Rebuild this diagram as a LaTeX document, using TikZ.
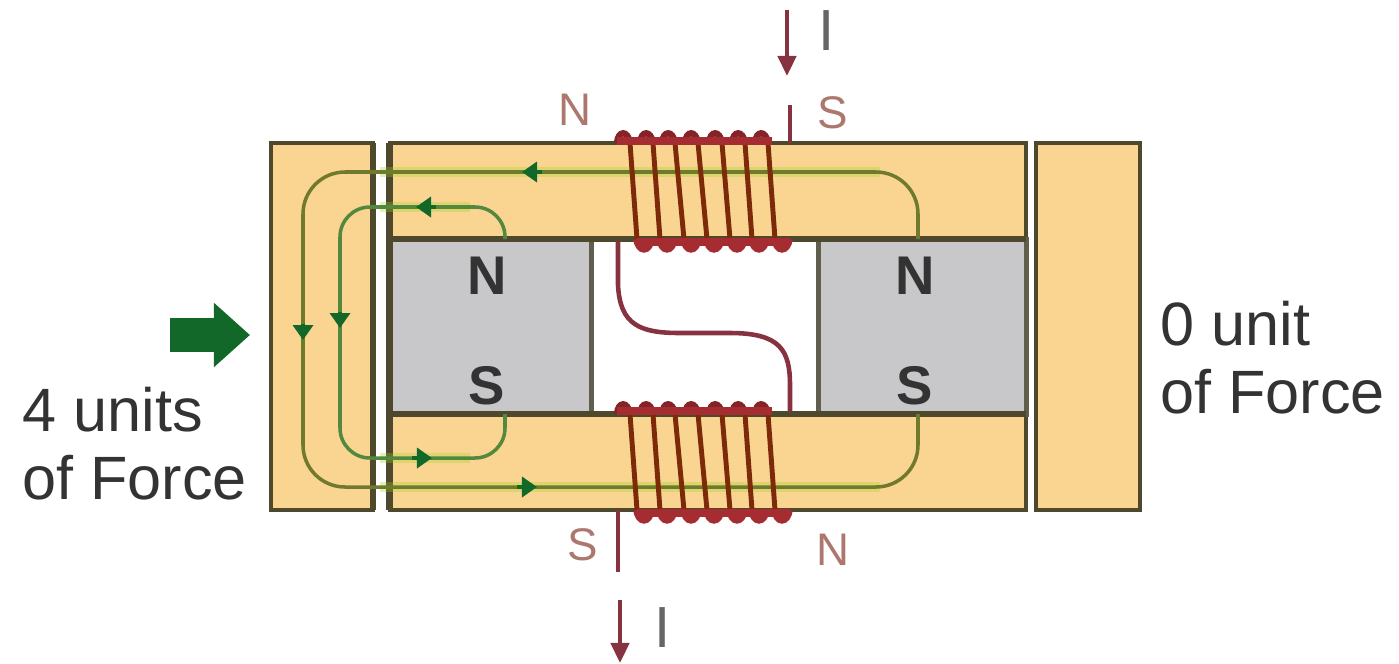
\documentclass[tikz,border=0pt]{standalone}
\usepackage{fontspec}
\setmainfont{Liberation Sans}
\usetikzlibrary{positioning, arrows.meta}
\definecolor{coreorange}{RGB}{250,213,145}
\definecolor{edgedark}{RGB}{78,72,44}
\definecolor{magnetgray}{RGB}{200,200,202}
\definecolor{fluxolive}{RGB}{112,122,44}
\definecolor{fluxgreen}{RGB}{84,136,62}
\definecolor{tipgreen}{RGB}{18,104,40}
\definecolor{wirebrown}{RGB}{125,42,10}
\definecolor{wirered}{RGB}{165,45,50}
\definecolor{leadred}{RGB}{135,50,65}
\definecolor{polepink}{RGB}{172,120,110}
\tikzset{
core/.style={draw=edgedark, fill=coreorange, line width=1.2pt, inner sep=0pt, outer sep=0pt}, % bars and plates
magnet/.style={draw=edgedark!60!gray, fill=magnetgray, line width=1.4pt, inner sep=0pt, outer sep=0pt},
heavyedge/.style={draw=edgedark, line width=1.9pt},
glow/.style={draw=yellow!60!green, line width=2.8pt, opacity=0.3},
fluxouter/.style={draw=fluxolive, line width=1pt, rounded corners=0.42cm},
fluxinner/.style={draw=fluxgreen, line width=1pt, rounded corners=0.3cm},
fluxtip/.style={draw=tipgreen, line width=1pt, -{Triangle[length=0.15cm, width=0.2cm]}},
turn/.style={draw=wirebrown, line width=1.4pt},
loopdark/.style={draw=wirered!80!black, line width=1.8pt},
looplight/.style={draw=wirered, line width=2.2pt},
lead/.style={draw=leadred, line width=1.3pt},
current/.style={lead, -{Triangle[length=0.2cm, width=0.18cm]}},
pushtip/.style={draw=tipgreen, line width=9.5pt, -{Triangle[length=0.36cm, width=0.62cm]}},
bigpole/.style={text=black!80, font=\bfseries\fontsize{15.5}{18}\selectfont},
coilpole/.style={text=polepink, font=\fontsize{13}{15}\selectfont},
curlabel/.style={text=black!60, font=\fontsize{16.5}{18}\selectfont},
forcetext/.style={text=black!80, align=left, anchor=west, font=\fontsize{17.4}{19.3}\selectfont},
}

\begin{document}
\begin{tikzpicture}[x=0.01cm, y=-0.01cm]
      \useasboundingbox (0,0) rectangle (1399,663);

      % iron parts
      \node[core, minimum width=1.02cm, minimum height=3.67cm] (leftplate) at (322,326.5) {};
      \node[core, minimum width=6.36cm, minimum height=0.96cm] (topbar) at (708,191) {};
      \node[core, minimum width=6.36cm, minimum height=0.96cm] (bottombar) at (708,462) {};
      \node[core, minimum width=1.04cm, minimum height=3.67cm] (rightplate) at (1088,326.5) {};
      \node[magnet, minimum width=2.02cm, minimum height=1.75cm, below=0pt of topbar.south west, anchor=north west] (leftmagnet) {};
      \node[magnet, minimum width=2.08cm, minimum height=1.75cm, below=0pt of topbar.south east, anchor=north east] (rightmagnet) {};
      \draw[heavyedge] (leftplate.north east) -- (leftplate.south east);
      \draw[heavyedge] (topbar.north west) -- (bottombar.south west);
      \draw[heavyedge] (leftmagnet.south west) -- (rightmagnet.south east);
      \draw[heavyedge] (leftmagnet.north west) -- (rightmagnet.north east);

      % flux paths
      \coordinate (o1) at (918,239);
      \coordinate (o2) at (918,172);
      \coordinate (o3) at (303,172);
      \coordinate (o4) at (303,487);
      \coordinate (o5) at (918,487);
      \coordinate (o6) at (918,414);
      \coordinate (i1) at (505,239);
      \coordinate (i2) at (505,207);
      \coordinate (i3) at (340,207);
      \coordinate (i4) at (340,458);
      \coordinate (i5) at (505,458);
      \coordinate (i6) at (505,414);
      \draw[glow] (380,172) -- (880,172) (380,487) -- (880,487) (380,207) -- (470,207) (380,458) -- (470,458);
      \draw[fluxouter] (o1) -- (o2) -- (o3) -- (o4) -- (o5) -- (o6);
      \draw[fluxinner] (i1) -- (i2) -- (i3) -- (i4) -- (i5) -- (i6);
      \draw[fluxtip] (542,172) -- (522,172);
      \draw[fluxtip] (436,207) -- (416,207);
      \draw[fluxtip] (303,324) -- (303,340);
      \draw[fluxtip] (340,312) -- (340,328);
      \draw[fluxtip] (412,458) -- (432,458);
      \draw[fluxtip] (517,487) -- (537,487);

      % coils
      \foreach \xa/\xb in {630/637,653/660,675/684,698/707,722/730,745/752,768/775} {
        \draw[loopdark] (\xa-13,143) .. controls (\xa-12,130) and (\xa-2,130) .. (\xa,143);
        \draw[looplight] (\xb,239) .. controls (\xb+2,252) and (\xb+12,252) .. (\xb+14,239);
        \draw[loopdark] (\xa-13,414) .. controls (\xa-12,401) and (\xa-2,401) .. (\xa,414);
        \draw[looplight] (\xb,510) .. controls (\xb+2,523) and (\xb+12,523) .. (\xb+14,510);
        \draw[turn] (\xa,143) -- (\xb,239);
        \draw[turn] (\xa,414) -- (\xb,510);
      }
      \draw[looplight] (617,141) -- (772,141) (637,242) -- (790,242) (617,411) -- (772,411) (637,513) -- (790,513);

      % leads
      \coordinate (topin) at (790,105);
      \coordinate (topout) at (790,143);
      \coordinate (linka) at (618,241);
      \coordinate (linkb) at (790,412);
      \coordinate (botin) at (618,510);
      \coordinate (botout) at (618,572);
      \coordinate (cura) at (787,10);
      \coordinate (curb) at (787,76);
      \coordinate (curc) at (620,600);
      \coordinate (curd) at (620,663);
      \coordinate (pusha) at (170,335);
      \coordinate (pushb) at (250,335);
      \draw[lead] (topin) -- (topout);
      \draw[lead] (linka) -- (618,285) .. controls (620,325) and (640,333) .. (680,333) -- (730,333) .. controls (780,333) and (790,350) .. (790,385) -- (linkb);
      \draw[lead] (botin) -- (botout);
      \draw[current] (cura) -- (curb);
      \draw[current] (curc) -- (curd);
      \draw[pushtip] (pusha) -- (pushb);

      % labels
      \node[bigpole] (pn1) at (487,276) {N};
      \node[bigpole] (ps1) at (487,386) {S};
      \node[bigpole] (pn2) at (915,276) {N};
      \node[bigpole] (ps2) at (915,386) {S};
      \node[coilpole] (cn1) at (575,110) {N};
      \node[coilpole] (cs1) at (833,113) {S};
      \node[coilpole] (cs2) at (583,545) {S};
      \node[coilpole] (cn2) at (833,550) {N};
      \node[curlabel] (cur1) at (827,31) {I};
      \node[curlabel] (cur2) at (663,628) {I};
      \node[forcetext] (left) at (10,444) {4 units\\of Force};
      \node[forcetext] (right) at (1148,358) {0 unit\\of Force};
    \end{tikzpicture}
\end{document}
